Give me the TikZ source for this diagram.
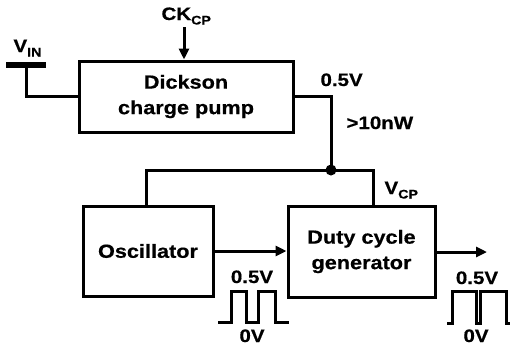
\documentclass[tikz,border=0pt]{standalone}
\usepackage{fontspec}
\setmainfont{Liberation Sans}[FakeStretch=1.14]
\newfontfamily\myheavy{Liberation Sans Bold}[FakeStretch=1.14,FakeBold=0.6]
\usetikzlibrary{arrows.meta}
\newcommand\mybx{\fontsize{19}{25.5}\selectfont\myheavy}
\newcommand\mylb{\fontsize{18}{20}\selectfont\myheavy}
\newcommand\mysb[1]{\raisebox{-4.5pt}{\fontsize{12.5}{13}\selectfont #1}}
\begin{document}
\begin{tikzpicture}[x=1pt,y=-1pt,line width=3pt,line join=miter,
  blk/.style={draw,line width=3pt,inner sep=0pt,align=center,font=\mybx},
  lbl/.style={inner sep=0pt,font=\mylb},
  arr/.style={-{Triangle[length=11pt,width=10pt]},line width=3pt},
  wave/.style={line width=3pt}]
\useasboundingbox (0,0) rectangle (510,351);
% blocks
\node[blk,minimum width=214pt,minimum height=71pt] (dk) at (186,96.5) {Dickson\\charge pump};
\node[blk,minimum width=130pt,minimum height=90pt] (osc) at (148,251) {Oscillator};
\node[blk,minimum width=147pt,minimum height=91pt] (dut) at (361.5,251.5) {Duty cycle\\generator};
% coordinates
\coordinate (vin) at (26,65);
\coordinate (vinl) at (6,65);
\coordinate (vinr) at (46,65);
\coordinate (ck) at (184,27);
\coordinate (cor) at (331,96.5);
\coordinate (jn) at (331,170);
\coordinate (vcp) at (373,170);
\coordinate (oscw) at (146,170);
\coordinate (out) at (487,252);
% V_IN
\draw[line width=6pt] (vinl) -- (vinr);
\draw (vin) |- (dk.west);
\node[lbl,anchor=base west] at (12,52) {V\mysb{IN}};
% CK
\draw[arr] (ck) -- (ck |- dk.north);
\node[lbl,anchor=base west] at (160,20) {CK\mysb{CP}};
% supply
\draw (dk.east) -- (cor) -- (jn);
\draw (oscw |- osc.north) -- (oscw) -- (vcp) -- (vcp |- dut.north);
\fill (jn) circle (5.5pt);
\node[lbl,anchor=base west] at (319,86) {0.5V};
\node[lbl,anchor=base west] at (345,129) {>10nW};
\node[lbl,anchor=base west] at (383,194) {V\mysb{CP}};
% signal
\draw[arr] (osc.east) -- (osc.east -| dut.west);
\draw[arr] (dut.east |- out) -- (out);
% waveforms
\draw[wave] (218,322) -- (231,322) -- (231,291) -- (246,291) -- (246,322) -- (258,322) -- (258,291) -- (275,291) -- (275,322) -- (289,322);
\node[lbl,anchor=base] at (252,283) {0.5V};
\node[lbl,anchor=base] at (252,342) {0V};
\draw[wave] (447,323) -- (452,323) -- (452,291) -- (476.5,291) -- (476.5,323) -- (480.5,323) -- (480.5,291) -- (506,291) -- (506,323) -- (513,323);
\node[lbl,anchor=base] at (477,284) {0.5V};
\node[lbl,anchor=base] at (476,342) {0V};
\end{tikzpicture}
\end{document}
